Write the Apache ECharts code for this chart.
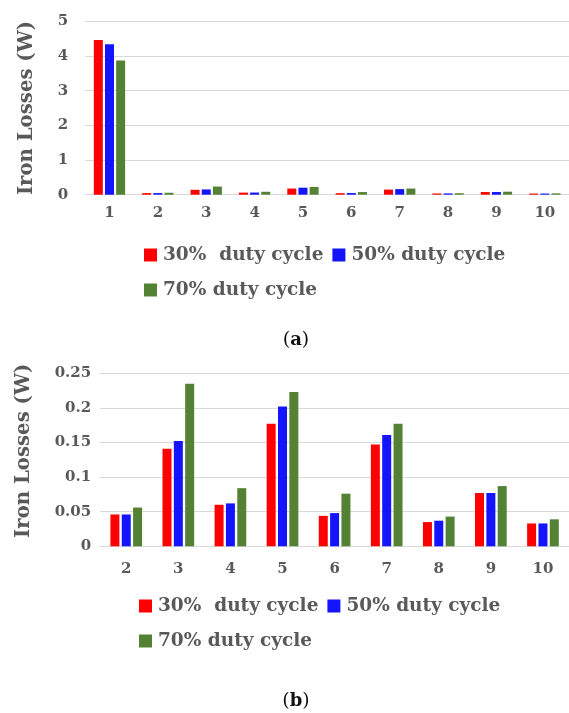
<!DOCTYPE html>
<html>
<head>
<meta charset="utf-8">
<script src="https://cdn.jsdelivr.net/npm/echarts@6/dist/echarts.min.js"></script>
<style>
  html, body { margin: 0; padding: 0; background: #ffffff; }
  #chart { width: 569px; height: 713px; }
</style>
</head>
<body>
<div id="chart"></div>
<script>
// Iron losses per harmonic order for three duty cycles
const categories = ['1', '2', '3', '4', '5', '6', '7', '8', '9', '10'];
const duty30 = [4.46, 0.046, 0.141, 0.060, 0.177, 0.044, 0.147, 0.035, 0.077, 0.033];
const duty50 = [4.34, 0.046, 0.152, 0.062, 0.202, 0.048, 0.161, 0.037, 0.077, 0.033];
const duty70 = [3.87, 0.056, 0.235, 0.084, 0.223, 0.076, 0.177, 0.043, 0.087, 0.039];
const seriesNames = ['30%  duty cycle', '50% duty cycle', '70% duty cycle'];
const colors = ['#ff0000', '#1414ff', '#548235'];

const textGray = '#595959';
const gridGray = '#d9d9d9';
const serif = 'DejaVu Serif';

const zoomCats = categories.slice(1);
const allValues = [duty30, duty50, duty70];

function xAxis(gridIndex, data, margin) {
  return {
    type: 'category', gridIndex, data,
    axisLine: { lineStyle: { color: gridGray, width: 1 } },
    axisTick: { show: false },
    axisLabel: { color: textGray, fontFamily: serif, fontWeight: 'bold', fontSize: 15, margin }
  };
}
function yAxis(gridIndex, max, interval, margin, nameGap, padding) {
  return {
    type: 'value', gridIndex, min: 0, max, interval,
    name: 'Iron Losses (W)', nameLocation: 'middle', nameGap,
    nameTextStyle: { color: textGray, fontFamily: serif, fontWeight: 'bold', fontSize: 19.7, padding },
    axisLine: { show: false }, axisTick: { show: false },
    splitLine: { lineStyle: { color: gridGray, width: 1 } },
    axisLabel: { color: textGray, fontFamily: serif, fontWeight: 'bold', fontSize: 15, margin }
  };
}

const series = [];
seriesNames.forEach((name, i) => {
  series.push({
    name, type: 'bar', xAxisIndex: 0, yAxisIndex: 0,
    data: allValues[i], barWidth: 9, barGap: '24%',
    itemStyle: { color: colors[i] }
  });
  series.push({
    name, type: 'bar', xAxisIndex: 1, yAxisIndex: 1,
    data: allValues[i].slice(1), barWidth: 9, barGap: '26%',
    itemStyle: { color: colors[i] }
  });
});

function legend(left, top, names, gap) {
  return {
    left, top, data: names, orient: 'horizontal', padding: 0,
    itemWidth: 13, itemHeight: 13, itemGap: gap, icon: 'rect',
    selectedMode: false,
    textStyle: { color: textGray, fontFamily: serif, fontWeight: 'bold', fontSize: 18.5, lineHeight: 20, padding: [0, 0, 0, 1] }
  };
}

function caption(letter, y) {
  return {
    type: 'text', x: 296, y,
    style: {
      text: '{p|(}{b|' + letter + '}{p|)}',
      align: 'center', verticalAlign: 'middle',
      rich: {
        p: { fontFamily: serif, fontSize: 19, fill: '#111111', color: '#111111' },
        b: { fontFamily: serif, fontSize: 18, fontWeight: 'bold', fill: '#111111', color: '#111111' }
      }
    }
  };
}

const chart = echarts.init(document.getElementById('chart'), null, { renderer: 'canvas' });
chart.setOption({
  animation: false,
  backgroundColor: '#ffffff',
  grid: [
    { left: 85.3, top: 21.3, width: 495, height: 173.4 },
    { left: 100.2, top: 373.3, width: 477, height: 173 }
  ],
  xAxis: [xAxis(0, categories, 11), xAxis(1, zoomCats, 15)],
  yAxis: [yAxis(0, 5, 1, 17, 48, [0, 0, 0, 0]), yAxis(1, 0.25, 0.05, 9, 66, [0, 0, 0, 18])],
  legend: [
    legend(144, 245, [seriesNames[0], seriesNames[1]], 9),
    legend(144, 280, [seriesNames[2]], 9),
    legend(139, 596, [seriesNames[0], seriesNames[1]], 9),
    legend(139, 631, [seriesNames[2]], 9)
  ],
  graphic: [caption('a', 340), caption('b', 701)],
  series
});
</script>
</body>
</html>
